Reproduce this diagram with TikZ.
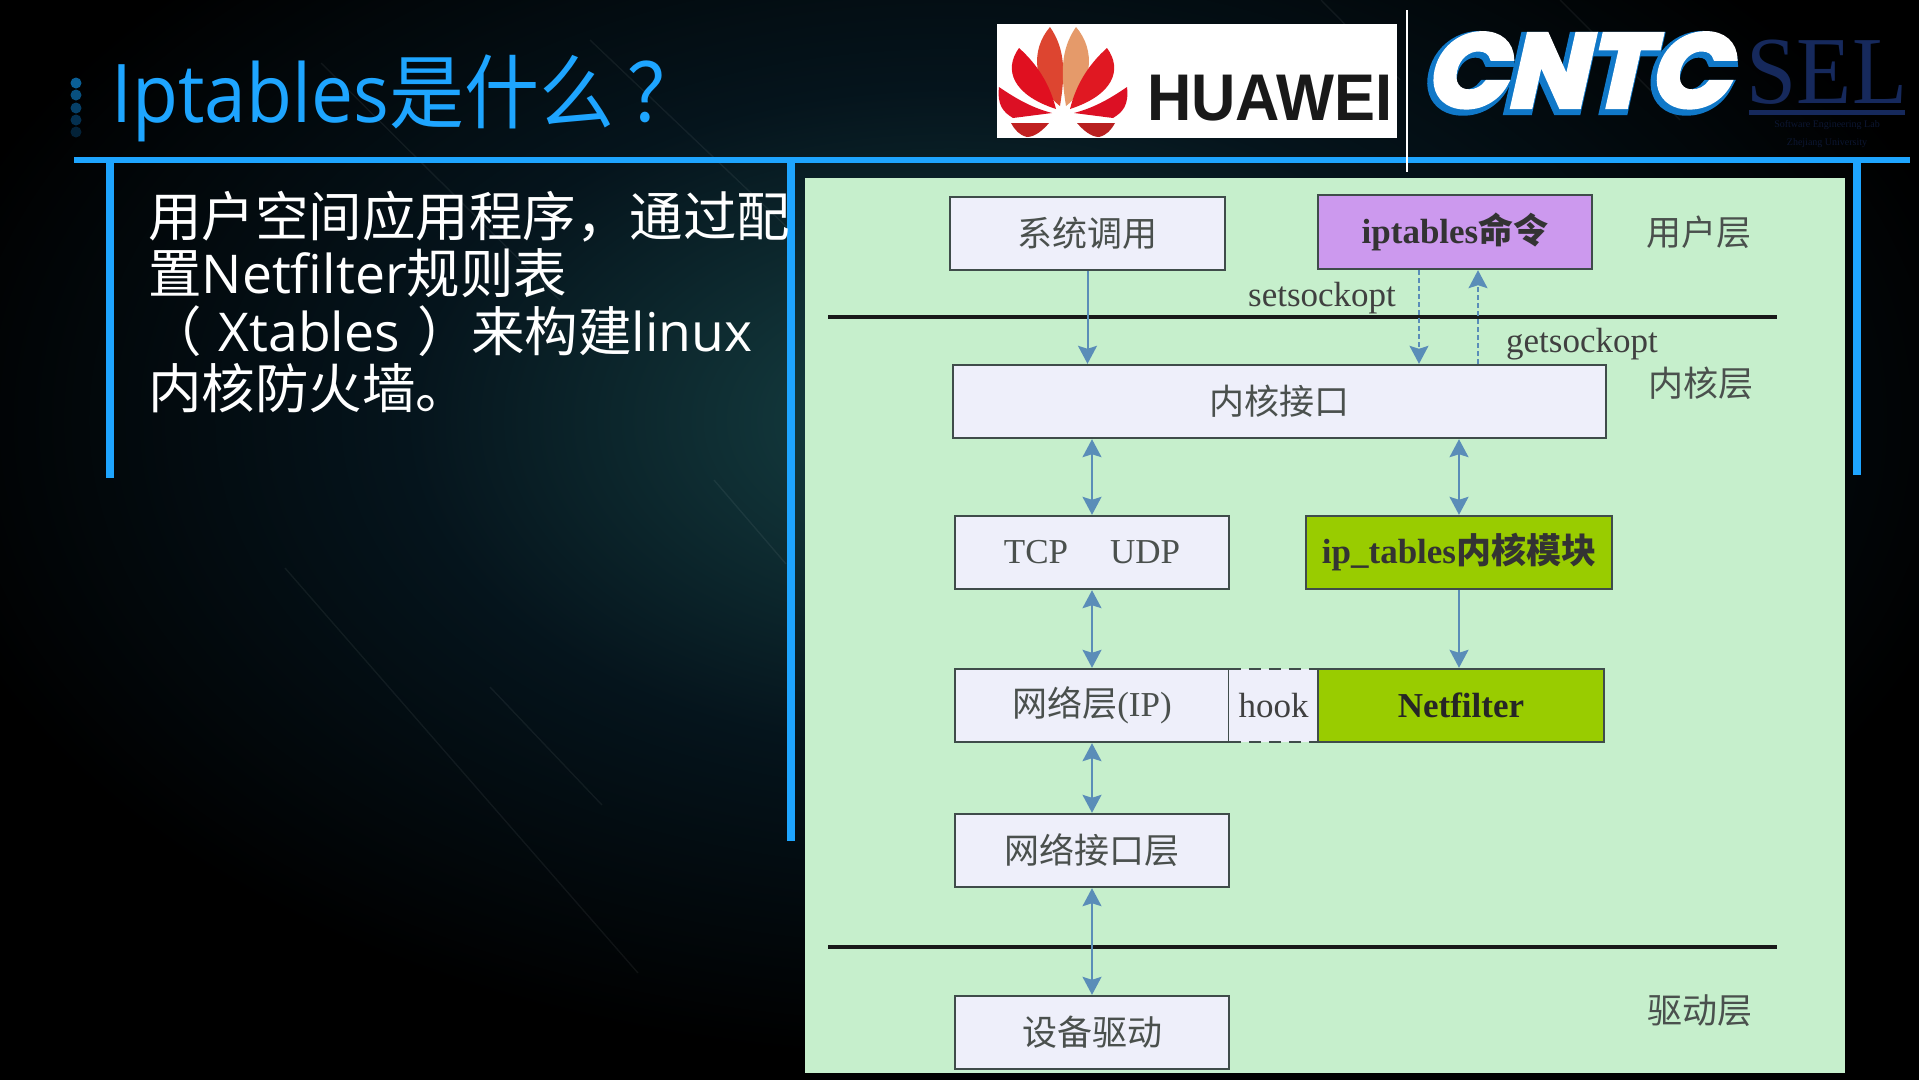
\documentclass[tikz,border=0pt]{standalone}
\usepackage{fontspec}
\setmainfont{Open Sans}
\newfontfamily\cjkf{Noto Sans CJK SC}
\newfontfamily\serf{Liberation Serif}
\newfontfamily\hwf{Liberation Sans}
\newfontfamily\cntcf[FakeSlant=0.22,FakeBold=4]{Poppins}
\newfontfamily\cntcb[FakeSlant=0.22,FakeBold=10]{Poppins}
\newcommand{\cj}[1]{{\cjkf #1}}
\newcommand{\fs}[1]{\fontsize{#1}{#1}\selectfont}
\usetikzlibrary{arrows.meta,calc}
\definecolor{barblue}{HTML}{1EA5FF}
\definecolor{panelgreen}{HTML}{C6EFCC}
\definecolor{boxfill}{HTML}{EEEFFA}
\definecolor{boxline}{HTML}{3F4C4A}
\definecolor{purplebox}{HTML}{CC99EE}
\definecolor{limebox}{HTML}{99CC00}
\definecolor{arrowblue}{HTML}{5A8DB8}
\definecolor{labelgrey}{HTML}{4A504D}
\definecolor{navy}{HTML}{16295C}
\definecolor{glowa}{HTML}{12363A}
\definecolor{glowb}{HTML}{05141C}
\definecolor{logoblue}{HTML}{1078C8}
\pgfdeclareradialshading{glow}{\pgfpoint{0bp}{0bp}}{color(0bp)=(glowa); color(3.5bp)=(glowa); color(13bp)=(glowb); color(25bp)=(black); color(50bp)=(black)}
\tikzset{
  x=1pt,y=-1pt,
  bar/.style={fill=barblue,draw=none},
  layerbox/.style={draw=boxline,line width=2.4pt,fill=boxfill,inner sep=0pt,text=labelgrey,font=\cjkf\fs{35}},
  lbl/.style={inner sep=0pt,text=labelgrey,font=\cjkf\fs{35}},
  lat/.style={inner sep=0pt,text=black!75,font=\serf\fs{35}},
  flow/.style={draw=arrowblue,line width=2pt,-{Stealth[length=18pt,width=19pt,inset=3pt]}},
  flowboth/.style={draw=arrowblue,line width=2pt,{Stealth[length=18pt,width=19pt,inset=3pt]}-{Stealth[length=18pt,width=19pt,inset=3pt]}},
  dashflow/.style={flow,dash pattern=on 5pt off 3pt,line width=1.6pt},
  rule/.style={draw=black!90,line width=4pt},
  streak/.style={draw=white,line width=1.4pt,opacity=0.06},
}
\begin{document}
\begin{tikzpicture}
\useasboundingbox (0,0) rectangle (1919,1079.6);
% background
\fill[black] (-2,-2) rectangle (1925,1085);
\begin{scope}
\clip (-2,-2) rectangle (1925,1085);
\shade[shading=glow] (950,420) ellipse [x radius=1050,y radius=640];
\draw[streak] (321,63) -- (560,300);
\draw[streak] (590,40) -- (790,230);
\draw[streak] (285,568) -- (638,973);
\draw[streak] (490,687) -- (602,805);
\draw[streak] (714,480) -- (786,564);
\draw[streak] (1321,0) -- (1400,80);
\draw[streak] (1560,0) -- (1680,120);
\end{scope}
% title and body
\node[anchor=base west,inner sep=0pt,text=barblue,font=\fs{75},yscale=1.08] (title) at (111,122) {Iptables\cj{是什么}\hspace{14pt}\cj{？}};
\foreach \yy/\cc in {83/0A5F96,95/08507F,108/064068,120/043050,132/032238}{
  \definecolor{dotc}{HTML}{\cc}
  \fill[dotc] (76,\yy) circle (5.5);
}
\fill[bar] (74,157) rectangle (1910,163);
\fill[bar] (106,163) rectangle (114,478);
\fill[bar] (787,163) rectangle (795,841);
\fill[bar] (1853,163) rectangle (1861,475);
\draw[white,line width=1.4pt] (1407,10) -- (1407,172);
\node[anchor=north west,inner sep=0pt,text=white,align=left,font=\fontsize{53.5}{57.3}\selectfont] (body) at (148,191) {%
  \cj{用户空间应用程序，通过配}\\
  \cj{置}Netfilter\cj{规则表}\\
  \cj{（} \hspace{3pt}Xtables\hspace{4pt} \cj{）来构建}linux\\
  \cj{内核防火墙。}};
% huawei
\fill[white] (997,24) rectangle (1397,138);
\foreach \m/\ca/\cb/\cc/\cd in {1/DD4530/E01020/DC1024/C02020,-1/E59A6A/E01822/DC1024/B82020}{
  \begin{scope}[shift={(1063,0)},xscale=\m]
    \definecolor{pa}{HTML}{\ca}\definecolor{pb}{HTML}{\cb}\definecolor{pc}{HTML}{\cc}\definecolor{pd}{HTML}{\cd}
    \fill[pa] (-13,27) .. controls (-33,50) and (-30,85) .. (-3,106) .. controls (2,75) and (3,50) .. cycle;
    \fill[pb] (-44,48) .. controls (-60,70) and (-50,95) .. (-7,109) .. controls (-13,85) and (-25,65) .. cycle;
    \fill[pc] (-64,87) .. controls (-66,105) and (-60,112) .. (-50,118) -- (-11,113) .. controls (-30,108) and (-45,100) .. cycle;
    \fill[pd] (-52,123) -- (-14,123) .. controls (-20,130) and (-28,137) .. (-36,137) .. controls (-44,135) and (-48,130) .. cycle;
  \end{scope}
}
\node[anchor=base west,inner sep=0pt,text=black!90,font=\hwf\bfseries\fs{66},xscale=0.93] (huawei) at (1147,120) {HUAWEI};
% CNTC
\node[anchor=base,inner sep=0pt,text=logoblue,font=\cntcb\bfseries\fs{104},xscale=1.02] (cntcshadow) at (1574,110) {CNTC};
\node[anchor=base,inner sep=0pt,text=white,font=\cntcf\bfseries\fs{104},xscale=1.02] (cntc) at (1577,107) {CNTC};
% SEL
\node[anchor=base,inner sep=0pt,text=navy,font=\serf,xscale=0.94] (sel) at (1827,103) {\fs{96}SEL};
\fill[navy] (1749,110) rectangle (1905,115);
\node[inner sep=0pt,text=navy!55!black,font=\serf\fs{10}] (sel1) at (1827,125) {Software Engineering Lab};
\node[inner sep=0pt,text=navy!55!black,font=\serf\fs{10}] (sel2) at (1827,143) {Zhejiang University};
% panel
\fill[panelgreen] (805,178) rectangle (1845,1073);
\node[layerbox,minimum width=275pt,minimum height=73pt] (sys) at (1087.5,233.5) {系统调用};
\node[layerbox,fill=purplebox,text=black!80,minimum width=274pt,minimum height=74pt] (ipt) at (1455,232) {\serf\bfseries iptables\cj{命令}};
\node[layerbox,minimum width=653pt,minimum height=73pt] (kern) at (1279.5,401.5) {内核接口};
\node[layerbox,minimum width=274pt,minimum height=73pt] (tcp) at (1092,552.5) {\serf TCP\hspace{42pt}UDP};
\node[layerbox,fill=limebox,text=black!80,minimum width=306pt,minimum height=73pt] (ipm) at (1459,552.5) {\serf\bfseries ip\_tables\cj{内核模块}};
\node[layerbox,minimum width=274pt,minimum height=73pt] (net) at (1092,705.5) {网络层\serf(IP)};
\node[inner sep=0pt,fill=boxfill,text=black!75,font=\serf\fs{35},minimum width=89pt,minimum height=73pt] (hook) at (1273.5,705.5) {hook};
\draw[boxline,line width=2.4pt,dash pattern=on 12pt off 8pt] (hook.north west) -- (hook.north east) (hook.south west) -- (hook.south east);
\node[layerbox,fill=limebox,text=black!85,minimum width=286pt,minimum height=73pt] (nf) at (1461,705.5) {\serf\bfseries Netfilter};
\node[layerbox,minimum width=274pt,minimum height=73pt] (nif) at (1092,850.5) {网络接口层};
\node[layerbox,minimum width=274pt,minimum height=73pt] (drv) at (1092,1032.5) {设备驱动};
% rules
\coordinate (r1a) at (828,317);\coordinate (r1b) at (1777,317);
\coordinate (r2a) at (828,947);\coordinate (r2b) at (1777,947);
\draw[rule] (r1a) -- (r1b);
\draw[rule] (r2a) -- (r2b);
% labels
\node[lat] (setl) at (1322,298) {setsockopt};
\node[lat] (getl) at (1582,344) {getsockopt};
\node[lbl] (ul) at (1699,232) {用户层};
\node[lbl] (kl) at (1701,383) {内核层};
\node[lbl] (dl) at (1700,1011) {驱动层};
% connectors
\coordinate (sx) at (1419,0);
\coordinate (gx) at (1478,0);
\coordinate (mx) at (1459,0);
\draw[flow] (sys.south) -- (sys.south |- kern.north);
\draw[dashflow] (sx |- ipt.south) -- (sx |- kern.north);
\draw[dashflow] (gx |- kern.north) -- (gx |- ipt.south);
\draw[flowboth] (tcp.north |- kern.south) -- (tcp.north);
\draw[flowboth] (mx |- kern.south) -- (mx |- ipm.north);
\draw[flowboth] (tcp.south) -- (net.north);
\draw[flowboth] (net.south) -- (nif.north);
\draw[flowboth] (nif.south) -- (drv.north);
\draw[flow] (mx |- ipm.south) -- (mx |- nf.north);
\end{tikzpicture}
\end{document}
